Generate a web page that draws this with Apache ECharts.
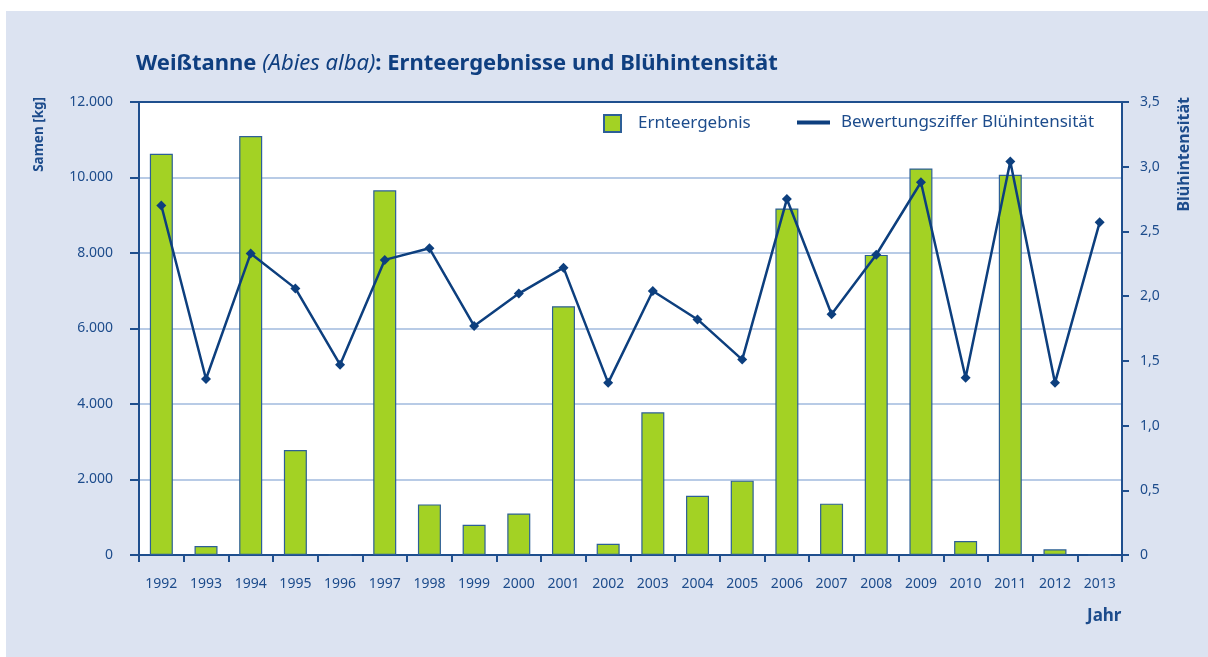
<!DOCTYPE html>
<html>
<head>
<meta charset="utf-8">
<script src="https://cdn.jsdelivr.net/npm/echarts@6/dist/echarts.min.js"></script>
<style>
  html, body { margin: 0; padding: 0; background: #fff; }
  #container { width: 1208px; height: 657px; }
</style>
</head>
<body>
<div id="container"></div>
<script>
// chart init
var dom = document.getElementById('container');
var myChart = echarts.init(dom, null, { renderer: 'canvas' });

// data
var years = ['1992', '1993', '1994', '1995', '1996', '1997', '1998', '1999', '2000', '2001', '2002',
  '2003', '2004', '2005', '2006', '2007', '2008', '2009', '2010', '2011', '2012', '2013'];
// Ernteergebnis, Samen [kg]
var harvest = [10630, 240, 11100, 2780, 0, 9660, 1340, 800, 1100, 6590, 300,
  3780, 1570, 1970, 9180, 1360, 7950, 10240, 370, 10070, 150, 0];
// Bewertungsziffer Blühintensität
var bloom = [2.70, 1.36, 2.33, 2.06, 1.47, 2.28, 2.37, 1.77, 2.02, 2.22, 1.33,
  2.04, 1.82, 1.51, 2.75, 1.86, 2.32, 2.88, 1.37, 3.04, 1.33, 2.57];

var textBlue = '#1d4c8c';
var axisBlue = '#1f4f8e';
var lineBlue = '#0d3f7e';
var font = 'Noto Sans';

function deNum(v) {
  // 12000 -> "12.000"
  return String(v).replace(/\B(?=(\d{3})+(?!\d))/g, '.');
}

var option = {
  backgroundColor: '#fff',
  textStyle: { fontFamily: font },
  graphic: [
    {
      type: 'rect', z: -10, silent: true,
      shape: { x: 6, y: 11, width: 1202, height: 646 },
      style: { fill: '#dce3f1' }
    },
    {
      type: 'text', left: 32, top: 97, rotation: Math.PI / 2,
      style: { text: 'Samen [kg]', fill: textBlue, font: 'bold 13.5px "Noto Sans"' }
    },
    {
      type: 'text', left: 1176, top: 97, rotation: Math.PI / 2,
      style: { text: 'Blühintensität', fill: textBlue, font: 'bold 16px "Noto Sans"' }
    },
    {
      type: 'text', left: 1087, top: 608,
      style: { text: 'Jahr', fill: textBlue, font: 'bold 17px "Noto Sans"' }
    }
  ],
  title: {
    left: 136,
    top: 53,
    padding: 0,
    text: '{b|Weißtanne }{i|(Abies alba)}{b|: Ernteergebnisse und Blühintensität}',
    textStyle: {
      rich: {
        b: { fontFamily: font, fontWeight: 'bold', fontSize: 22, color: '#0f3f80' },
        i: { fontFamily: font, fontWeight: 'normal', fontStyle: 'italic', fontSize: 22, color: '#0f3f80' }
      }
    }
  },
  legend: [
    {
      left: 603, top: 114, padding: 0,
      itemWidth: 17, itemHeight: 17,
      icon: 'rect',
      textStyle: { color: textBlue, fontSize: 17, fontFamily: font, padding: [0, 0, 0, 12] },
      data: ['Ernteergebnis']
    },
    {
      left: 797, top: 114, padding: 0,
      itemWidth: 33, itemHeight: 4,
      icon: 'rect',
      textStyle: { color: textBlue, fontSize: 17, fontFamily: font, padding: [0, 0, 0, 6] },
      data: ['Bewertungsziffer Blühintensität']
    }
  ],
  grid: {
    left: 139, right: 86, top: 102, bottom: 102,
    show: true, backgroundColor: '#fff', borderColor: axisBlue, borderWidth: 1.5
  },
  xAxis: [
    {
      type: 'category',
      data: years,
      boundaryGap: true,
      axisLine: { lineStyle: { color: axisBlue, width: 2 } },
      axisTick: { show: true, length: 7, lineStyle: { color: axisBlue, width: 2 } },
      axisLabel: { color: textBlue, fontSize: 14, fontFamily: font, margin: 22 }
    },
    {
      // dark top border of the plot, drawn above the light split lines
      type: 'category',
      data: years,
      position: 'top',
      z: 5,
      axisLine: { show: true, onZero: false, lineStyle: { color: axisBlue, width: 2 } },
      axisTick: { show: false },
      axisLabel: { show: false },
      splitLine: { show: false }
    }
  ],
  yAxis: [
    {
      type: 'value', min: 0, max: 12000, interval: 2000,
      axisLine: { show: true, lineStyle: { color: axisBlue, width: 2 } },
      axisTick: { show: true, length: 9, lineStyle: { color: axisBlue, width: 2 } },
      axisLabel: { color: textBlue, fontSize: 14, fontFamily: font, margin: 26, formatter: deNum },
      splitLine: { lineStyle: { color: '#b8cbe6', width: 2 } }
    },
    {
      type: 'value', min: 0, max: 3.5, interval: 0.5,
      position: 'right',
      axisLine: { show: true, lineStyle: { color: axisBlue, width: 2 } },
      axisTick: { show: true, length: 7, lineStyle: { color: axisBlue, width: 2 } },
      axisLabel: {
        color: textBlue, fontSize: 14, fontFamily: font, margin: 18,
        formatter: function (v) { return v === 0 ? '0' : v.toFixed(1).replace('.', ','); }
      },
      splitLine: { show: false }
    }
  ],
  series: [
    {
      name: 'Ernteergebnis',
      type: 'bar',
      data: harvest,
      barWidth: 23,
      itemStyle: { color: '#a3d224', borderColor: '#2d5f97', borderWidth: 1.2 },
      z: 2
    },
    {
      name: 'Bewertungsziffer Blühintensität',
      type: 'line',
      yAxisIndex: 1,
      data: bloom,
      symbol: 'diamond',
      symbolSize: 10,
      lineStyle: { color: lineBlue, width: 2.5 },
      itemStyle: { color: lineBlue },
      z: 3
    }
  ]
};

myChart.setOption(option);
window.addEventListener('resize', myChart.resize);
</script>
</body>
</html>
